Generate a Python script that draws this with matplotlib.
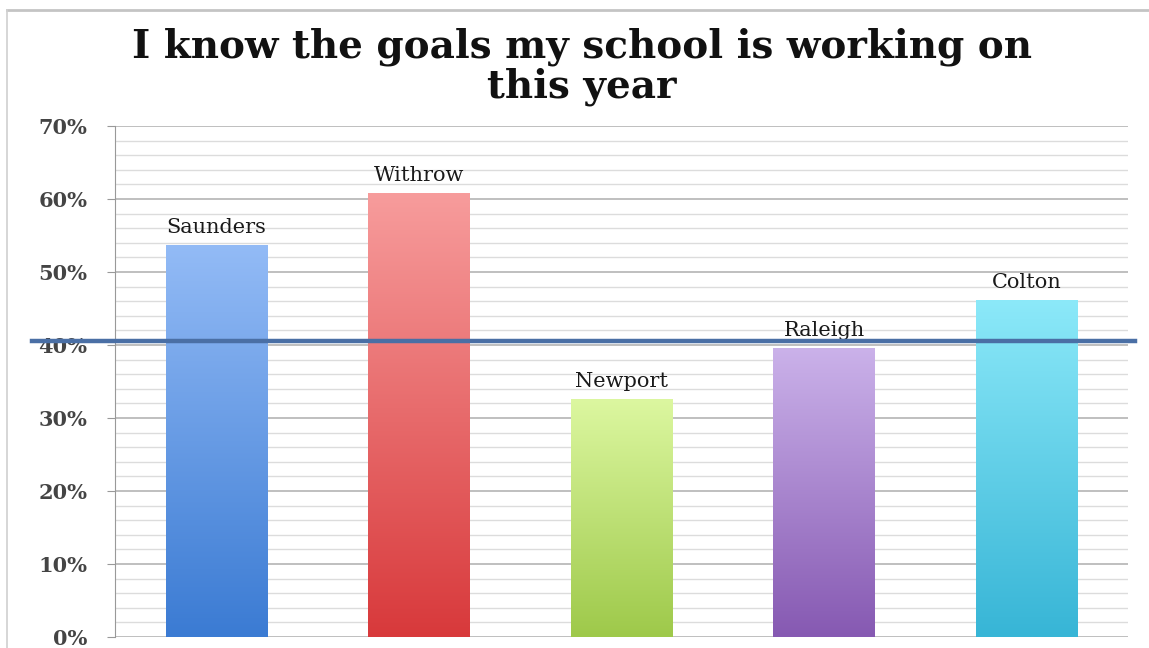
import matplotlib
matplotlib.use("Agg")
import matplotlib.pyplot as plt
import numpy as np
from matplotlib.colors import LinearSegmentedColormap
from matplotlib.lines import Line2D
import matplotlib.transforms as mtransforms

schools = ["Saunders", "Withrow", "Newport", "Raleigh", "Colton"]
values = [53.7, 60.8, 32.6, 39.6, 46.2]
top_colors = ["#93bbf6", "#f79c9c", "#dcf7a0", "#cbb2ea", "#8ce9f9"]
bottom_colors = ["#3b7bd3", "#d8393b", "#9ec94a", "#8659b2", "#37b5d6"]
reference_value = 40.5
title = "I know the goals my school is working on\nthis year"
yticks = [0, 10, 20, 30, 40, 50, 60, 70]
ytick_labels = ["0%", "10%", "20%", "30%", "40%", "50%", "60%", "70%"]

fig = plt.figure(figsize=(11.49, 6.48), dpi=100)
fig.patch.set_facecolor("white")

# outer border (top and left edges)
fig.add_artist(Line2D([7/1149, 1.0], [1 - 10/648, 1 - 10/648],
                      transform=fig.transFigure, color="#c4c4c4", linewidth=2))
fig.add_artist(Line2D([7/1149, 7/1149], [0, 1 - 10/648],
                      transform=fig.transFigure, color="#d0d0d0", linewidth=1.2))

ax = fig.add_axes([115/1149, 1 - 637/648, (1128-115)/1149, (637-126)/648])

serif = ["DejaVu Serif"]

# gridlines
ax.set_yticks(yticks)
ax.set_yticks(np.arange(0, 71, 2), minor=True)
ax.yaxis.grid(True, which="major", color="#b4b4b4", linewidth=1.2)
ax.yaxis.grid(True, which="minor", color="#dcdcdc", linewidth=1.0)
ax.set_axisbelow(True)
ax.set_yticklabels(ytick_labels, fontsize=15, fontweight="bold",
                   color="#444444", family=serif)
ax.tick_params(axis="y", which="major", length=6, color="#999999", pad=14)
ax.tick_params(axis="y", which="minor", length=0)
ax.set_xticks([])
for s in ["top", "right", "bottom"]:
    ax.spines[s].set_visible(False)
ax.spines["left"].set_color("#999999")

width = 0.5
grad = np.linspace(0, 1, 256).reshape(-1, 1)
for i, (name, v) in enumerate(zip(schools, values)):
    cmap = LinearSegmentedColormap.from_list(name, [bottom_colors[i], top_colors[i]])
    bar = ax.bar(i, v, width=width, color="none", edgecolor="none", zorder=3)[0]
    im = ax.imshow(grad, cmap=cmap, aspect="auto", origin="lower",
                   extent=[i - width/2, i + width/2, 0, v], zorder=3)
    im.set_clip_path(bar)
    ax.text(i, v + 1.1, name, ha="center", va="bottom", fontsize=15,
            family=serif, color="#1a1a1a", zorder=4)

ax.set_xlim(-0.5, len(schools) - 0.5)
ax.set_ylim(0, 70)

# reference line spanning past the axis
trans = mtransforms.blended_transform_factory(fig.transFigure, ax.transData)
line = Line2D([32/1149, 1135/1149], [reference_value, reference_value],
              transform=trans, color="#4a6fa5", linewidth=3.2, zorder=5)
fig.add_artist(line)

fig.text(582/1149, 1 - 67/648, title, ha="center", va="center", fontsize=28,
         fontweight="bold", family=serif, color="#111111", linespacing=1.05)

fig.savefig("out.png", dpi=100)
